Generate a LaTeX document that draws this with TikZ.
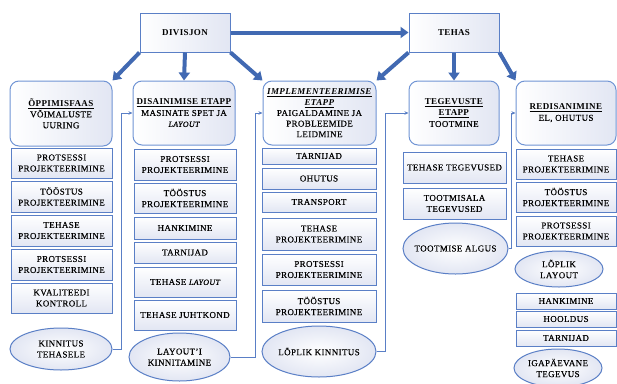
\documentclass[tikz,border=0pt]{standalone}
\usepackage{fontspec}
\setmainfont{Liberation Serif}[LetterSpace=4,UprightFeatures={FakeBold=0.25},ItalicFeatures={FakeBold=0.25}]
\usetikzlibrary{arrows.meta,shapes.geometric,calc}
\definecolor{arrowblue}{HTML}{4169B2}
\definecolor{edgeblue}{HTML}{5A7FC6}
\definecolor{stageblue}{HTML}{7094D4}
\definecolor{lav}{HTML}{E2E6F3}
\newcommand{\stghead}[1]{\underline{\textbf{#1}}}
\newcommand{\layit}{{\fontsize{8}{11}\selectfont\itshape LAYOUT}}
\tikzset{
 base/.style={font=\fontsize{9}{11}\selectfont, align=center, inner sep=0pt, text=black},
 topbox/.style={base, draw=edgeblue, line width=1pt, left color=white, right color=lav, font=\fontsize{9}{11}\selectfont\bfseries},
 stagebox/.style={base, draw=stageblue, line width=1pt, rounded corners=9pt, left color=white, right color=lav},
 subbox/.style={base, draw=edgeblue, line width=1pt, top color=white, bottom color=lav},
 oval/.style={base, ellipse, draw=edgeblue, line width=1pt, inner color=white, outer color=lav, inner xsep=-10pt, inner ysep=0pt},
 bigarrow/.style={draw=arrowblue, line width=4pt, -{Triangle[length=8pt,width=11pt]}},
 conn/.style={draw=edgeblue, line width=0.9pt, -{Stealth[length=4pt,width=3.5pt]}},
}
\begin{document}
\begin{tikzpicture}[x=1pt,y=-1pt]
\useasboundingbox (0,0) rectangle (617,383);
\fill[white] (0,0) rectangle (617,383);

% top boxes
\node[topbox, minimum width=90pt, minimum height=39pt] (div) at (185,32.5) {DIVISJON};
\node[topbox, minimum width=90pt, minimum height=39pt] (teh) at (454,32.5) {TEHAS};

% stage boxes
\node[stagebox, minimum width=102pt, minimum height=65pt] (s1) at (61,113.5) {\stghead{ÕPPIMISFAAS}\\VÕIMALUSTE\\UURING};
\node[stagebox, minimum width=102pt, minimum height=64pt] (s2) at (184,113) {\stghead{DISAINIMISE ETAPP}\\MASINATE SPET JA\\\layit};
\node[stagebox, minimum width=113pt, minimum height=64pt, font=\fontsize{9}{10.6}\selectfont] (s3) at (319.5,113) {\underline{\textbf{\textit{IMPLEMENTEERIMISE}}}\\\underline{\textbf{\textit{ETAPP}}}\\PAIGALDAMINE JA\\PROBLEEMIDE\\LEIDMINE};
\node[stagebox, minimum width=90pt, minimum height=64pt] (s4) at (454,113) {\stghead{TEGEVUSTE}\\\stghead{ETAPP}\\TOOTMINE};
\node[stagebox, minimum width=100pt, minimum height=64pt] (s5) at (566,113) {\stghead{REDISANIMINE}\\EL, OHUTUS};

% column 1
\node[subbox, minimum width=101pt, minimum height=30pt] (a1) at (61.5,163) {PROTSESSI\\PROJEKTEERIMINE};
\node[subbox, minimum width=101pt, minimum height=31pt] (a2) at (61.5,196.5) {TÖÖSTUS\\PROJEKTEERIMINE};
\node[subbox, minimum width=101pt, minimum height=31pt] (a3) at (61.5,230.5) {TEHASE\\PROJEKTEERIMINE};
\node[subbox, minimum width=101pt, minimum height=31pt] (a4) at (61.5,264.5) {PROTSESSI\\PROJEKTEERIMINE};
\node[subbox, minimum width=101pt, minimum height=30pt] (a5) at (61.5,298) {KVALITEEDI\\KONTROLL};
\node[oval, minimum width=102pt, minimum height=42pt] (e1) at (61,349) {KINNITUS\\TEHASELE};

% column 2
\node[subbox, minimum width=102pt, minimum height=31pt] (b1) at (185,164.5) {PROTSESSI\\PROJEKTEERIMINE};
\node[subbox, minimum width=102pt, minimum height=30pt] (b2) at (185,198) {TÖÖSTUS\\PROJEKTEERIMINE};
\node[subbox, minimum width=102pt, minimum height=22pt] (b3) at (185,228) {HANKIMINE};
\node[subbox, minimum width=102pt, minimum height=21pt] (b4) at (185,252.5) {TARNIJAD};
\node[subbox, minimum width=102pt, minimum height=30pt] (b5) at (185,282) {TEHASE \layit};
\node[subbox, minimum width=102pt, minimum height=30pt] (b6) at (185,315) {TEHASE JUHTKOND};
\node[oval, minimum width=101pt, minimum height=48pt] (e2) at (179.5,357) {LAYOUT’I\\KINNITAMINE};

% column 3
\node[subbox, minimum width=114pt, minimum height=16pt] (c1) at (319,156) {TARNIJAD};
\node[subbox, minimum width=114pt, minimum height=21pt] (c2) at (319,178.5) {OHUTUS};
\node[subbox, minimum width=114pt, minimum height=20pt] (c3) at (319,202) {TRANSPORT};
\node[subbox, minimum width=114pt, minimum height=32pt] (c4) at (319,234) {TEHASE\\PROJEKTEERIMINE};
\node[subbox, minimum width=114pt, minimum height=31pt] (c5) at (319,269.5) {PROTSESSI\\PROJEKTEERIMINE};
\node[subbox, minimum width=114pt, minimum height=32pt] (c6) at (319,306) {TÖÖSTUS\\PROJEKTEERIMINE};
\node[oval, minimum width=114pt, minimum height=51pt] (e3) at (319,351.5) {LÕPLIK KINNITUS};

% column 4
\node[subbox, minimum width=103pt, minimum height=31pt] (d1) at (454.5,167.5) {TEHASE TEGEVUSED};
\node[subbox, minimum width=103pt, minimum height=31pt] (d2) at (454.5,203.5) {TOOTMISALA\\TEGEVUSED};
\node[oval, minimum width=105pt, minimum height=51pt] (e4) at (455.5,248.5) {TOOTMISE ALGUS};

% column 5
\node[subbox, minimum width=100pt, minimum height=30pt] (f1) at (566,164) {TEHASE\\PROJEKTEERIMINE};
\node[subbox, minimum width=100pt, minimum height=30pt] (f2) at (566,197) {TÖÖSTUS\\PROJEKTEERIMINE};
\node[subbox, minimum width=100pt, minimum height=30pt] (f3) at (566,231) {PROTSESSI\\PROJEKTEERIMINE};
\node[oval, minimum width=88pt, minimum height=36pt] (e5) at (559,269) {LÕPLIK\\LAYOUT};
\node[subbox, minimum width=100pt, minimum height=16pt] (f4) at (566,301) {HANKIMINE};
\node[subbox, minimum width=100pt, minimum height=16pt] (f5) at (566,319) {HOOLDUS};
\node[subbox, minimum width=100pt, minimum height=16pt] (f6) at (566,338) {TARNIJAD};
\node[oval, minimum width=88pt, minimum height=38pt] (e6) at (558,368) {IGAPÄEVANE\\TEGEVUS};

% thick arrows
\draw[bigarrow] (div.east) -- (teh.west);
\draw[bigarrow] (div.south west) -- (s1.north east);
\draw[bigarrow] (div.south) -- (s2.north);
\draw[bigarrow] (div.south east) -- (s3.north west);
\draw[bigarrow] (teh.south west) -- (s3.north east);
\draw[bigarrow] (teh.south) -- (s4.north);
\draw[bigarrow] (teh.south east) -- (s5.north west);

% thin connectors
\draw[conn] (e1.east) -- ++(9,0) |- (s2.west);
\draw[conn] (e2.east) -- ++(25,0) |- (s3.west);
\draw[conn] (e3.east) -- ++(9,0) |- (s4.west);
\draw[conn] (e4.east) -- ++(2.5,0) |- (s5.west);
\end{tikzpicture}
\end{document}
